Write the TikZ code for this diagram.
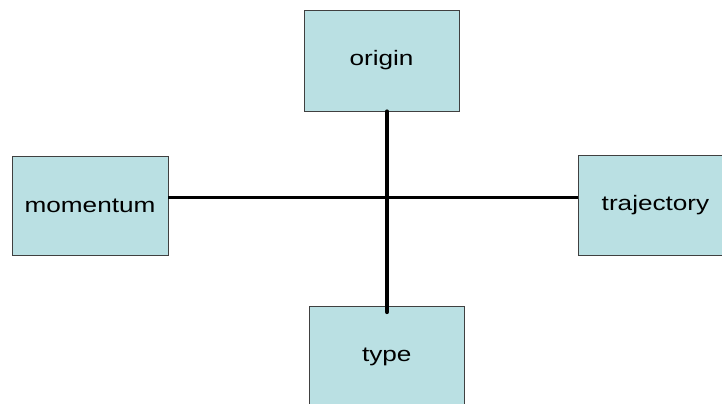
\documentclass[tikz,border=0pt]{standalone}
\usepackage{fontspec}
\setmainfont{Liberation Sans}
\definecolor{boxfill}{RGB}{186,224,227}
\newcommand{\widetext}[1]{\scalebox{1.25}[1]{#1}}
\tikzset{
  topic/.style={draw=black!75, line width=0.8bp, fill=boxfill,
    minimum width=155bp, minimum height=100bp, inner sep=0pt,
    font=\fontsize{21}{25}\selectfont},
  bar/.style={line width=3bp}
}
\begin{document}
\begin{tikzpicture}[x=1bp,y=1bp]
\useasboundingbox (0,0) rectangle (722,403);
\clip (0,0) rectangle (722,403);
\node[topic, minimum height=101bp] (origin) at (381.5,342.5) {\widetext{origin}};
\node[topic, minimum width=156bp, minimum height=99bp] (momentum) at (90,197.5) {\widetext{momentum}};
\node[topic] (trajectory) at (655.5,198) {\widetext{trajectory}};
\node[topic] (type) at (386.8,46.5) {\widetext{type}};
\coordinate (hub) at (387,205.7);
\draw[bar] (hub -| momentum.east) -- (hub -| trajectory.west);
\draw[bar, line width=4bp, line cap=round] (hub |- origin.south) -- ([yshift=-6bp]hub |- type.north);
\end{tikzpicture}
\end{document}
